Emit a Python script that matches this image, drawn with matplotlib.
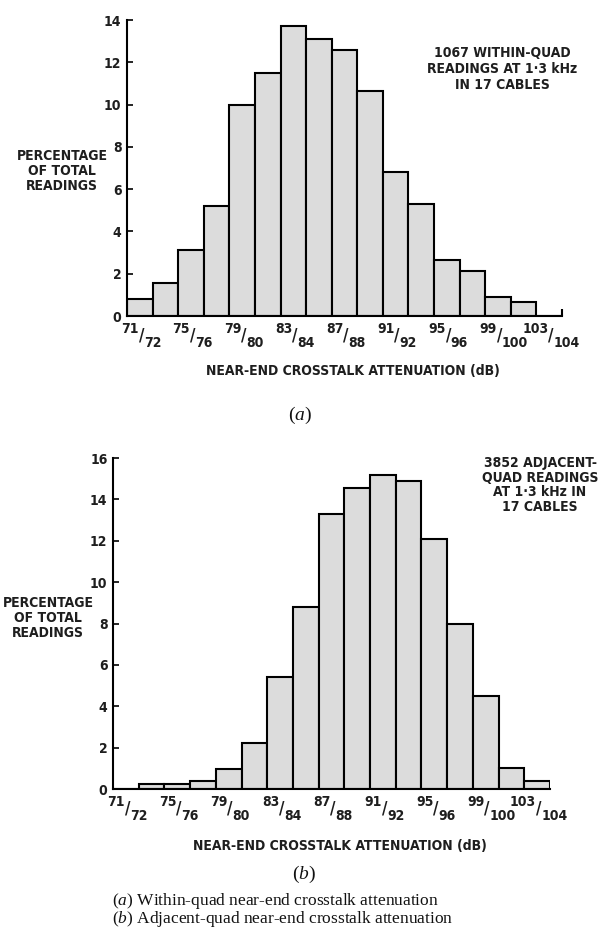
import matplotlib
matplotlib.use("Agg")
import matplotlib.pyplot as plt
import numpy as np

# bins of 2 dB, 71/72 ... 103/104
bin_lo = [71, 73, 75, 77, 79, 81, 83, 85, 87, 89, 91, 93, 95, 97, 99, 101, 103]
bin_hi = [72, 74, 76, 78, 80, 82, 84, 86, 88, 90, 92, 94, 96, 98, 100, 102, 104]

# percentage of total readings
within_quad = [0.8, 1.55, 3.1, 5.2, 10.0, 11.5, 13.7, 13.1, 12.6, 10.65,
               6.8, 5.3, 2.65, 2.15, 0.9, 0.68, 0.0]
adjacent_quad = [0.0, 0.25, 0.25, 0.4, 0.95, 2.2, 5.4, 8.8, 13.3, 14.55,
                 15.2, 14.9, 12.1, 8.0, 4.5, 1.0, 0.4]

plt.rcParams["mathtext.fontset"] = "custom"
plt.rcParams["mathtext.it"] = "Liberation Serif:italic"
plt.rcParams["mathtext.rm"] = "Liberation Serif"

SANS = ["DejaVu Sans"]
SERIF = ["Liberation Serif", "DejaVu Serif"]
INK = "#1e1e1e"
W, H = 600, 930

fig = plt.figure(figsize=(6, 9.3), dpi=100)


def px(x, y):
    return x / W, 1 - y / H


def histo(ax, vals, ymax, end_tick):
    x = np.arange(len(vals)) + 0.5
    ax.bar(x, vals, width=1.0, color="#dcdcdc", edgecolor="black", linewidth=1.5)
    ax.set_xlim(0, len(vals))
    ax.set_ylim(0, ymax)
    ax.set_yticks(range(0, ymax + 1, 2))
    ax.set_xticks([])
    for s in ["top", "right"]:
        ax.spines[s].set_visible(False)
    for s in ["left", "bottom"]:
        ax.spines[s].set_linewidth(1.5)
    ax.tick_params(axis="y", direction="in", length=4, width=1.2, pad=4)
    for lab in ax.get_yticklabels():
        lab.set_fontfamily(SANS)
        lab.set_fontstretch("condensed")
        lab.set_fontweight("bold")
        lab.set_fontsize(10)
        lab.set_color(INK)
    if end_tick:
        ax.set_xticks([len(vals)], minor=True)
        ax.tick_params(axis="x", which="minor", direction="in", length=5, width=1.5)
    # stacked fraction labels every second bin
    for i in range(0, len(vals), 2):
        kw = dict(xycoords=("data", "axes fraction"), textcoords="offset pixels",
                  family=SANS, stretch="condensed", weight="bold",
                  color=INK, annotation_clip=False)
        ax.annotate(str(bin_lo[i]), xy=(i + 0.5, 0), xytext=(-1, -6), ha="right", va="top",
                    fontsize=10, **kw)
        ax.annotate("/", xy=(i + 0.5, 0), xytext=(1.5, -10), ha="center", va="top",
                    fontsize=12, **kw)
        ax.annotate(str(bin_hi[i]), xy=(i + 0.5, 0), xytext=(4, -20), ha="left", va="top",
                    fontsize=10, **kw)


# (a) within-quad
ax1 = fig.add_axes([127 / W, 1 - 316 / H, 435 / W, 296 / H])
histo(ax1, within_quad, 14, True)

# (b) adjacent-quad
ax2 = fig.add_axes([113 / W, 1 - 789 / H, 437 / W, 331 / H])
histo(ax2, adjacent_quad, 16, False)

txt = dict(family=SANS, stretch="condensed", weight="bold", color=INK, ha="center", va="center")
fig.text(*px(62, 171), "PERCENTAGE\nOF TOTAL\nREADINGS", fontsize=10, linespacing=1.1, **txt)
fig.text(*px(48, 618), "PERCENTAGE\nOF TOTAL\nREADINGS", fontsize=10, linespacing=1.1, **txt)
fig.text(*px(502, 69), "1067 WITHIN-QUAD\nREADINGS AT 1·3 kHz\nIN 17 CABLES", fontsize=10, linespacing=1.15, **txt)
fig.text(*px(540, 485), "3852 ADJACENT-\nQUAD READINGS\nAT 1·3 kHz IN\n17 CABLES", fontsize=10, linespacing=1.08, **txt)
fig.text(*px(353, 371), "NEAR-END CROSSTALK ATTENUATION (dB)", fontsize=10, **txt)
fig.text(*px(340, 846), "NEAR-END CROSSTALK ATTENUATION (dB)", fontsize=10, **txt)

ser = dict(family=SERIF, color="#111111", ha="center", va="center")
fig.text(*px(300, 415), "($a$)", fontsize=14, **ser)
fig.text(*px(304, 874), "($b$)", fontsize=14, **ser)
fig.text(*px(112, 910),
         "($a$) Within-quad near-end crosstalk attenuation\n"
         "($b$) Adjacent-quad near-end crosstalk attenuation",
         fontsize=12.5, linespacing=0.85, family=SERIF, color="#111111",
         ha="left", va="center", multialignment="left")

fig.savefig("out.png", dpi=100)
